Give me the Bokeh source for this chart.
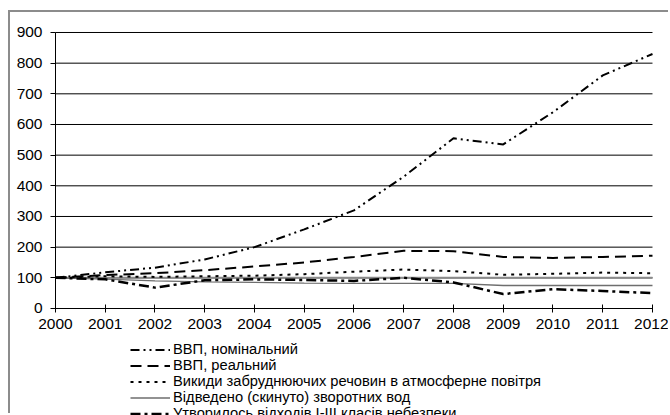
from bokeh.plotting import figure
from bokeh.models import Legend, LegendItem, FixedTicker, Range1d
from bokeh.embed import file_html
from bokeh.resources import INLINE

years = [2000, 2001, 2002, 2003, 2004, 2005, 2006, 2007, 2008, 2009, 2010, 2011, 2012]
gdp_nominal = [100, 118, 133, 160, 200, 258, 320, 430, 555, 535, 640, 760, 830]
gdp_real = [100, 109, 115, 125, 137, 150, 168, 188, 187, 168, 165, 168, 172]
emissions = [100, 105, 103, 105, 107, 112, 120, 127, 122, 110, 113, 117, 115]
wastewater = [100, 96, 90, 87, 85, 83, 82, 82, 82, 75, 75, 75, 75]
waste = [100, 95, 68, 92, 95, 93, 90, 100, 85, 47, 63, 57, 50]
base_line = [100, 100, 100, 100, 100, 100, 100, 100, 100, 100, 100, 100, 100]

labels = [
    "ВВП, номінальний",
    "ВВП, реальний",
    "Викиди забруднюючих речовин в атмосферне повітря",
    "Відведено (скинуто) зворотних вод",
    "Утворилось відходів I-III класів небезпеки",
]
y_ticks = [0, 100, 200, 300, 400, 500, 600, 700, 800, 900]

FONT = "Liberation Sans"

# canvas = frame; 2000 at canvas x=45, 2012 at x=642; 900 at canvas y=20, 0 at y=296
p = figure(width=660, height=403, output_backend="svg", toolbar_location=None,
           x_range=Range1d(1999.0955, 2012.362), y_range=Range1d(-349, 965.2),
           min_border_left=0, min_border_right=0, min_border_top=0, min_border_bottom=0)
p.styles = {"border-left": "2px solid #8c8c8c", "border-top": "2px solid #8c8c8c",
            "margin-left": "8px", "margin-top": "10px"}
p.outline_line_color = None
p.background_fill_color = "white"
p.border_fill_color = "white"

p.xgrid.visible = False
p.ygrid.visible = False
grid_y = y_ticks[1:]
p.segment(x0=[years[0]] * len(grid_y), x1=[years[-1]] * len(grid_y), y0=grid_y, y1=grid_y,
          line_color="#000000", line_width=1)

p.xaxis.ticker = FixedTicker(ticks=years)
p.yaxis.ticker = FixedTicker(ticks=y_ticks)
for ax in (p.xaxis[0], p.yaxis[0]):
    ax.axis_line_color = "#000000"
    ax.axis_line_width = 1
    ax.major_tick_line_color = "#000000"
    ax.minor_tick_line_color = None
    ax.major_label_text_font = FONT
    ax.major_label_text_font_size = "15.5px"
    ax.major_label_text_color = "#000000"
p.xaxis.fixed_location = 0
p.xaxis.bounds = (years[0], years[-1])
p.xaxis.major_tick_in = 4
p.xaxis.major_tick_out = 4
p.xaxis.major_label_standoff = 7
p.yaxis.fixed_location = years[0]
p.yaxis.bounds = (0, 900)
p.yaxis.major_tick_in = 0
p.yaxis.major_tick_out = 5
p.yaxis.major_label_standoff = 8

p.line(years, base_line, line_color="#8a8a8a", line_width=2)
r4 = p.line(years, wastewater, line_color="#6e6e6e", line_width=1.3)
r5 = p.line(years, waste, line_color="#000000", line_width=2.5, line_dash="10 4 3 4")
r3 = p.line(years, emissions, line_color="#000000", line_width=2, line_dash="3 5")
r2 = p.line(years, gdp_real, line_color="#000000", line_width=2, line_dash="11 6")
r1 = p.line(years, gdp_nominal, line_color="#000000", line_width=2, line_dash="9 4 2 4 2 4")

legend = Legend(items=[LegendItem(label=labels[0], renderers=[r1]),
                       LegendItem(label=labels[1], renderers=[r2]),
                       LegendItem(label=labels[2], renderers=[r3]),
                       LegendItem(label=labels[3], renderers=[r4]),
                       LegendItem(label=labels[4], renderers=[r5])],
                location=(120, -6))
legend.border_line_color = None
legend.background_fill_alpha = 0
legend.padding = 0
legend.margin = 0
legend.spacing = 0
legend.glyph_width = 40
legend.glyph_height = 15
legend.label_height = 15
legend.label_standoff = 3
legend.label_text_font = FONT
legend.label_text_font_size = "14.7px"
legend.label_text_color = "#000000"
p.add_layout(legend, "center")

open("out.html", "w").write(file_html(p, INLINE))
